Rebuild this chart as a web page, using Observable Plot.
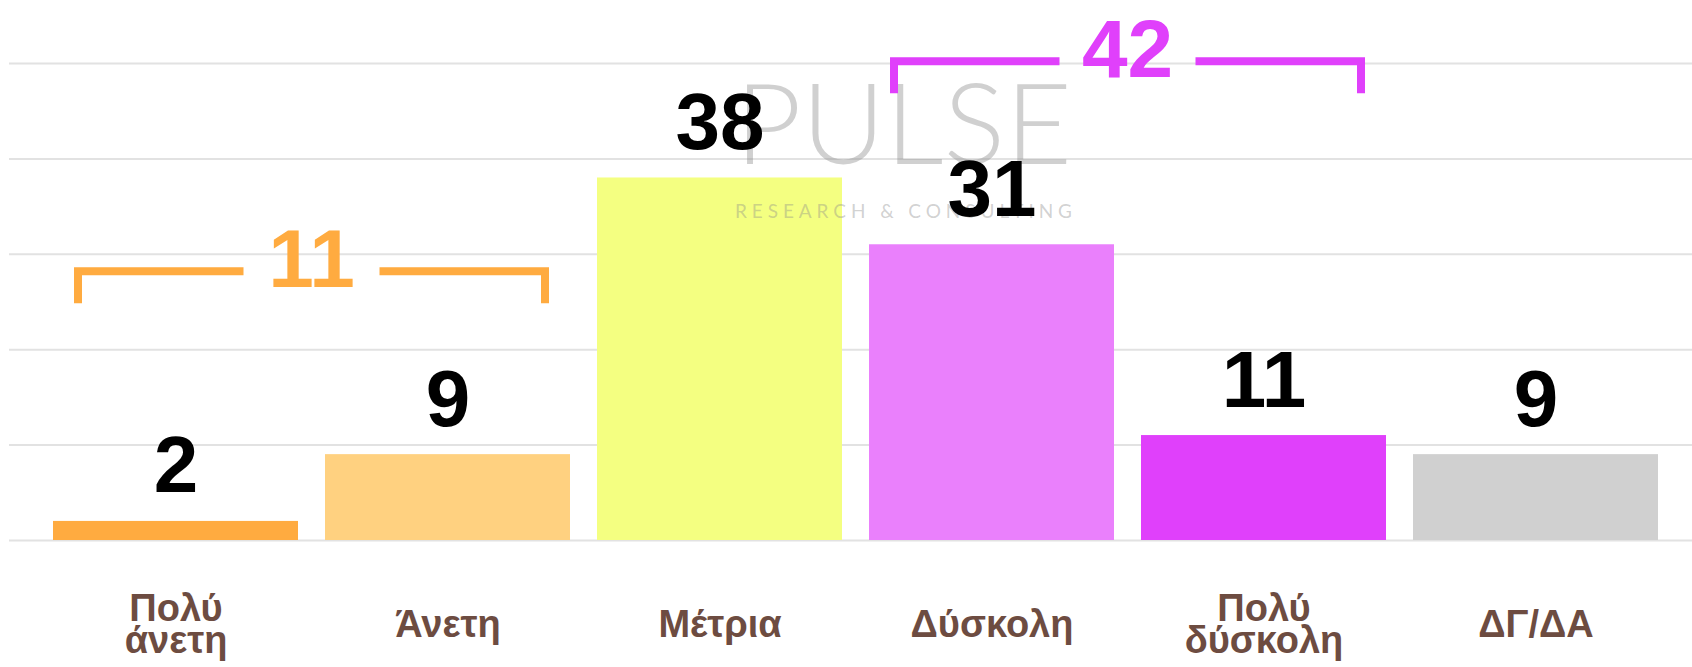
<!DOCTYPE html>
<html><head><meta charset="utf-8">
<script src="https://cdn.jsdelivr.net/npm/d3@7"></script>
<script src="https://cdn.jsdelivr.net/npm/@observablehq/plot@0.6"></script>
<style>
html,body{margin:0;padding:0;background:#fff;}
#chart{width:1692px;height:667px;}
</style></head><body><div id="chart"></div>
<script>
// ---- data ----
const categories = ["Πολύ άνετη", "Άνετη", "Μέτρια", "Δύσκολη", "Πολύ δύσκολη", "ΔΓ/ΔΑ"];
const tickLabels = ["Πολύ\nάνετη", "Άνετη", "Μέτρια", "Δύσκολη", "Πολύ\nδύσκολη", "ΔΓ/ΔΑ"];
const values = [2, 9, 38, 31, 11, 9];
const barColors = ["#FFAB40", "#FFD180", "#F4FF81", "#EA80FC", "#E040FB", "#D0D0D0"];
const yTicks = [0, 10, 20, 30, 40, 50];
const groupLabels = ["11", "42"];
const groupMembers = [["Πολύ άνετη", "Άνετη"], ["Δύσκολη", "Πολύ δύσκολη"]];
const groupColors = ["#FFAB40", "#E040FB"];

const data = categories.map((c, i) => ({category: c, value: values[i], tick: tickLabels[i], color: barColors[i]}));
const groups = groupLabels.map((l, i) => ({label: l, members: groupMembers[i], color: groupColors[i]}));

const FONT = "'Liberation Sans', Arial, sans-serif";

// bracket mark drawn through the plot's own scales
function bracketMark(index, scales) {
  const x = scales.x, y = scales.y;
  const bw = typeof x.bandwidth === "function" ? x.bandwidth() : x.bandwidth;
  const g = d3.create("svg:g");
  groups.forEach(gr => {
    const first = gr.members[0], last = gr.members[gr.members.length - 1];
    const x0 = x(first) + 21 + 4;
    const x1 = x(last) + bw - 21 - 4;
    const maxV = d3.max(gr.members, m => values[categories.indexOf(m)]);
    const yl = y(maxV) - 183;
    const cx = (x0 + x1) / 2;
    const gap = 68;
    g.append("path")
      .attr("d", `M${x0},${yl + 32}V${yl}H${cx - gap}M${cx + gap},${yl}H${x1}V${yl + 32}`)
      .attr("fill", "none").attr("stroke", gr.color).attr("stroke-width", 8)
      .attr("stroke-linejoin", "miter").attr("stroke-linecap", "butt");
    g.append("text")
      .attr("x", cx).attr("y", yl + 16).attr("text-anchor", "middle")
      .attr("font-size", 82).attr("font-weight", "bold").attr("font-family", FONT)
      .attr("fill", gr.color).text(gr.label);
  });
  return g.node();
}

// faint logo watermark
function watermark() {
  const g = d3.create("svg:g").attr("fill", "#8a8a8a").attr("fill-opacity", 0.4)
    .attr("text-anchor", "start");
  g.append("text").attr("x", 735).attr("y", 164).attr("font-size", 113)
    .attr("font-family", "Lato, 'Open Sans', sans-serif").attr("font-weight", 300)
    .attr("textLength", 337).attr("lengthAdjust", "spacingAndGlyphs").text("PULSE");
  g.append("text").attr("x", 735).attr("y", 218).attr("font-size", 19)
    .attr("font-family", "Lato, 'Open Sans', sans-serif")
    .attr("textLength", 337).attr("lengthAdjust", "spacing").text("RESEARCH & CONSULTING");
  return g.node();
}

const plot = Plot.plot({
  width: 1692,
  height: 667,
  marginTop: 63,
  marginBottom: 127,
  marginLeft: 9,
  marginRight: 0,
  style: {fontFamily: FONT, background: "#fff"},
  x: {domain: categories, paddingInner: 0.1, paddingOuter: 0.142, align: 0.567, axis: null},
  y: {domain: [0, 50], axis: null},
  color: {type: "identity"},
  marks: [
    Plot.ruleY(yTicks, {stroke: "#e2e2e2", strokeWidth: 2}),
    Plot.barY(data, {x: "category", y: "value", fill: "color"}),
    watermark,
    Plot.text(data, {x: "category", y: "value", text: d => String(d.value), dy: -29, lineAnchor: "bottom",
      fontSize: 80, fontWeight: "bold", fill: "#000"}),
    Plot.text(data, {x: "category", text: "tick", frameAnchor: "bottom", dy: 86, lineAnchor: "middle",
      lineHeight: 0.86, fontSize: 38, fontWeight: "bold", fill: "#6D4C41"}),
    bracketMark
  ]
});
document.getElementById("chart").appendChild(plot);
</script>
</body></html>
